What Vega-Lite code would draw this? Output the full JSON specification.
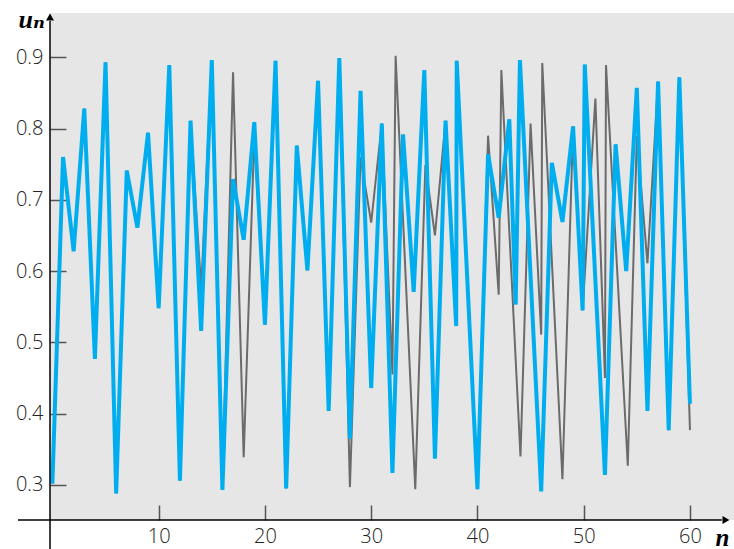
{
  "$schema": "https://vega.github.io/schema/vega-lite/v6.json",
  "width": 684,
  "height": 507,
  "autosize": "none",
  "padding": {"left": 50, "top": 13, "right": 0, "bottom": 29},
  "background": "white",
  "view": {"fill": "#e6e6e6", "stroke": null},
  "config": {
    "axis": {
      "domain": false,
      "grid": false,
      "tickColor": "#555555",
      "tickWidth": 1.5,
      "labelFont": "Open Sans",
      "labelFontWeight": 300,
      "labelFontSize": 20,
      "labelColor": "#222222",
      "titleFont": "Liberation Serif, DejaVu Serif",
      "titleFontStyle": "italic",
      "titleFontWeight": "bold",
      "titleFontSize": 26,
      "titleColor": "#000000"
    }
  },
  "datasets": {
    "u": [
      {"s": "blue", "n": 0, "u": 0.302}, {"s": "blue", "n": 1, "u": 0.760}, {"s": "blue", "n": 2, "u": 0.628},
      {"s": "blue", "n": 3, "u": 0.828}, {"s": "blue", "n": 4, "u": 0.477}, {"s": "blue", "n": 5, "u": 0.893},
      {"s": "blue", "n": 6, "u": 0.288}, {"s": "blue", "n": 7, "u": 0.741}, {"s": "blue", "n": 8, "u": 0.661},
      {"s": "blue", "n": 9, "u": 0.794}, {"s": "blue", "n": 10, "u": 0.548}, {"s": "blue", "n": 11, "u": 0.889},
      {"s": "blue", "n": 12, "u": 0.306}, {"s": "blue", "n": 13, "u": 0.811}, {"s": "blue", "n": 14, "u": 0.516},
      {"s": "blue", "n": 15, "u": 0.896}, {"s": "blue", "n": 16, "u": 0.293}, {"s": "blue", "n": 17, "u": 0.729},
      {"s": "blue", "n": 18, "u": 0.644}, {"s": "blue", "n": 19, "u": 0.809}, {"s": "blue", "n": 20, "u": 0.525},
      {"s": "blue", "n": 21, "u": 0.895}, {"s": "blue", "n": 22, "u": 0.295}, {"s": "blue", "n": 23, "u": 0.776},
      {"s": "blue", "n": 24, "u": 0.601}, {"s": "blue", "n": 25, "u": 0.867}, {"s": "blue", "n": 26, "u": 0.404},
      {"s": "blue", "n": 27, "u": 0.899}, {"s": "blue", "n": 28, "u": 0.365}, {"s": "blue", "n": 29, "u": 0.853},
      {"s": "blue", "n": 30, "u": 0.436}, {"s": "blue", "n": 31, "u": 0.807}, {"s": "blue", "n": 32, "u": 0.317},
      {"s": "blue", "n": 33, "u": 0.792}, {"s": "blue", "n": 34, "u": 0.571}, {"s": "blue", "n": 35, "u": 0.882},
      {"s": "blue", "n": 36, "u": 0.337}, {"s": "blue", "n": 37, "u": 0.811}, {"s": "blue", "n": 38, "u": 0.523},
      {"s": "blue", "n": 38.05, "u": 0.895}, {"s": "blue", "n": 40, "u": 0.294}, {"s": "blue", "n": 41, "u": 0.764},
      {"s": "blue", "n": 42, "u": 0.675}, {"s": "blue", "n": 43, "u": 0.813}, {"s": "blue", "n": 43.6, "u": 0.553},
      {"s": "blue", "n": 44, "u": 0.896}, {"s": "blue", "n": 46, "u": 0.291}, {"s": "blue", "n": 47, "u": 0.752},
      {"s": "blue", "n": 48, "u": 0.669}, {"s": "blue", "n": 49, "u": 0.803}, {"s": "blue", "n": 49.9, "u": 0.545},
      {"s": "blue", "n": 50.1, "u": 0.890}, {"s": "blue", "n": 52, "u": 0.314}, {"s": "blue", "n": 53, "u": 0.778},
      {"s": "blue", "n": 54, "u": 0.600}, {"s": "blue", "n": 55, "u": 0.857}, {"s": "blue", "n": 56, "u": 0.404},
      {"s": "blue", "n": 57, "u": 0.866}, {"s": "blue", "n": 58, "u": 0.377}, {"s": "blue", "n": 59, "u": 0.872},
      {"s": "blue", "n": 60, "u": 0.414},
      {"s": "gray", "n": 0, "u": 0.302}, {"s": "gray", "n": 1, "u": 0.760}, {"s": "gray", "n": 2, "u": 0.628},
      {"s": "gray", "n": 3, "u": 0.828}, {"s": "gray", "n": 4, "u": 0.477}, {"s": "gray", "n": 5, "u": 0.893},
      {"s": "gray", "n": 6, "u": 0.288}, {"s": "gray", "n": 7, "u": 0.741}, {"s": "gray", "n": 8, "u": 0.661},
      {"s": "gray", "n": 9, "u": 0.794}, {"s": "gray", "n": 10, "u": 0.548}, {"s": "gray", "n": 11, "u": 0.889},
      {"s": "gray", "n": 12, "u": 0.306}, {"s": "gray", "n": 13, "u": 0.811}, {"s": "gray", "n": 14, "u": 0.576},
      {"s": "gray", "n": 15, "u": 0.896}, {"s": "gray", "n": 16, "u": 0.293}, {"s": "gray", "n": 17, "u": 0.879},
      {"s": "gray", "n": 18, "u": 0.339}, {"s": "gray", "n": 19, "u": 0.790}, {"s": "gray", "n": 20, "u": 0.525},
      {"s": "gray", "n": 21, "u": 0.895}, {"s": "gray", "n": 22, "u": 0.295}, {"s": "gray", "n": 23, "u": 0.776},
      {"s": "gray", "n": 24, "u": 0.601}, {"s": "gray", "n": 25, "u": 0.867}, {"s": "gray", "n": 26, "u": 0.404},
      {"s": "gray", "n": 27, "u": 0.899}, {"s": "gray", "n": 28, "u": 0.297}, {"s": "gray", "n": 29, "u": 0.760},
      {"s": "gray", "n": 30, "u": 0.668}, {"s": "gray", "n": 31, "u": 0.807}, {"s": "gray", "n": 32, "u": 0.455},
      {"s": "gray", "n": 32.3, "u": 0.902}, {"s": "gray", "n": 34.15, "u": 0.294}, {"s": "gray", "n": 35.1, "u": 0.749},
      {"s": "gray", "n": 36, "u": 0.650}, {"s": "gray", "n": 37, "u": 0.811}, {"s": "gray", "n": 38, "u": 0.523},
      {"s": "gray", "n": 38.05, "u": 0.895}, {"s": "gray", "n": 40, "u": 0.294}, {"s": "gray", "n": 41, "u": 0.790},
      {"s": "gray", "n": 42, "u": 0.567}, {"s": "gray", "n": 42.25, "u": 0.882}, {"s": "gray", "n": 44.05, "u": 0.340},
      {"s": "gray", "n": 45, "u": 0.807}, {"s": "gray", "n": 46, "u": 0.511}, {"s": "gray", "n": 46.1, "u": 0.892},
      {"s": "gray", "n": 48, "u": 0.308}, {"s": "gray", "n": 49, "u": 0.803}, {"s": "gray", "n": 49.9, "u": 0.545},
      {"s": "gray", "n": 51.1, "u": 0.842}, {"s": "gray", "n": 52, "u": 0.450}, {"s": "gray", "n": 52.1, "u": 0.889},
      {"s": "gray", "n": 54.15, "u": 0.327}, {"s": "gray", "n": 55, "u": 0.789}, {"s": "gray", "n": 56, "u": 0.611},
      {"s": "gray", "n": 57, "u": 0.866}, {"s": "gray", "n": 58, "u": 0.377}, {"s": "gray", "n": 59, "u": 0.872},
      {"s": "gray", "n": 60, "u": 0.377}
    ]
  },
  "layer": [
    {
      "data": {"name": "u"},
      "transform": [{"filter": "datum.s == 'gray'"}],
      "mark": {"type": "line", "color": "#6b6b6b", "strokeWidth": 2},
      "encoding": {
        "x": {
          "field": "n", "type": "quantitative",
          "scale": {"domain": [-0.226, 64.145], "nice": false, "zero": false},
          "axis": {
            "values": [10, 20, 30, 40, 50, 60],
            "tickSize": -15,
            "labelPadding": 21,
            "labelBaseline": "top",
            "title": "n",
            "titleAlign": "left",
            "titleBaseline": "alphabetic",
            "titleAnchor": "start",
            "titleX": 665,
            "titleY": 25,
            "titleFontSize": 25
          }
        },
        "y": {
          "field": "u", "type": "quantitative",
          "scale": {"domain": [0.2509, 0.9621], "nice": false, "zero": false},
          "axis": {
            "values": [0.3, 0.4, 0.5, 0.6, 0.7, 0.8, 0.9],
            "format": ".1f",
            "tickSize": -16,
            "labelPadding": 23,
            "title": "uₙ",
            "titleAngle": 0,
            "titleAlign": "left",
            "titleBaseline": "alphabetic",
            "titleX": -32,
            "titleY": 14
          }
        }
      }
    },
    {
      "data": {"name": "u"},
      "transform": [{"filter": "datum.s == 'blue'"}],
      "mark": {"type": "line", "color": "#00aeef", "strokeWidth": 4},
      "encoding": {
        "x": {"field": "n", "type": "quantitative"},
        "y": {"field": "u", "type": "quantitative"}
      }
    },
    {
      "data": {"values": [{}]},
      "mark": {"type": "rule", "color": "#000000", "strokeWidth": 1.5},
      "encoding": {
        "x": {"datum": -3.24, "type": "quantitative"},
        "x2": {"datum": 63.0},
        "y": {"datum": 0.2509, "type": "quantitative"}
      }
    },
    {
      "data": {"values": [{}]},
      "mark": {"type": "rule", "color": "#000000", "strokeWidth": 1.5},
      "encoding": {
        "x": {"datum": -0.226, "type": "quantitative"},
        "y": {"datum": 0.2103, "type": "quantitative"},
        "y2": {"datum": 0.951}
      }
    },
    {
      "data": {"values": [{}]},
      "mark": {"type": "point", "shape": "triangle-right", "filled": true, "color": "#000000", "size": 64, "opacity": 1},
      "encoding": {
        "x": {"datum": 63.39, "type": "quantitative"},
        "y": {"datum": 0.2509, "type": "quantitative"}
      }
    },
    {
      "data": {"values": [{}]},
      "mark": {"type": "point", "shape": "triangle-up", "filled": true, "color": "#000000", "size": 64, "opacity": 1},
      "encoding": {
        "x": {"datum": -0.226, "type": "quantitative"},
        "y": {"datum": 0.9565, "type": "quantitative"}
      }
    }
  ]
}
